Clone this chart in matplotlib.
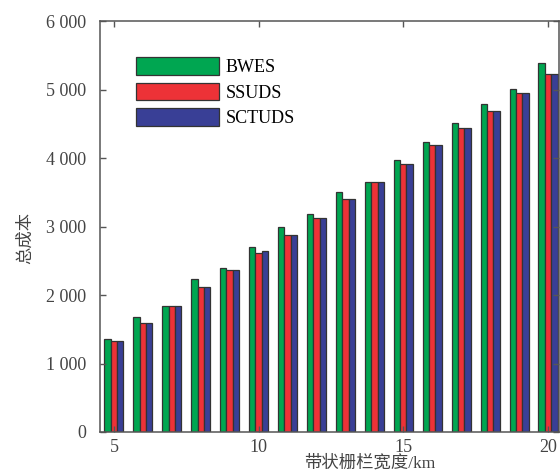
import numpy as np
import matplotlib.pyplot as plt

plt.rcParams['font.family'] = ['Liberation Serif', 'Noto Sans CJK SC']

# band width (km) and total cost of each method
widths = np.arange(5, 21)
bwes = [1362, 1674, 1835, 2233, 2399, 2705, 2993, 3182, 3504, 3654,
        3966, 4234, 4511, 4788, 5003, 5391]
ssuds = [1328, 1587, 1835, 2112, 2360, 2618, 2876, 3128, 3406, 3654,
         3917, 4185, 4442, 4691, 4953, 5231]
sctuds = [1328, 1587, 1835, 2112, 2360, 2638, 2876, 3128, 3406, 3654,
          3917, 4185, 4442, 4691, 4953, 5231]
names = ['BWES', 'SSUDS', 'SCTUDS']
colors = ['#00a651', '#ed3237', '#393f96']
yticks = [0, 1000, 2000, 3000, 4000, 5000, 6000]
ytick_labels = ['0', '1 000', '2 000', '3 000', '4 000', '5 000', '6 000']

fig = plt.figure(figsize=(5.6, 4.72), dpi=100)
ax = fig.add_axes([100/560, 1-432/472, 459/560, 411/472])

w = 0.22
for k, (vals, c, n) in enumerate(zip([bwes, ssuds, sctuds], colors, names)):
    ax.bar(widths + (k-1)*w, vals, width=w, color=c, edgecolor='#333333',
           linewidth=0.9, label=n)

ax.set_xlim(4.52, 20.38)
ax.set_ylim(0, 6000)
ax.set_xticks([5, 10, 15, 20])
ax.set_yticks(yticks)
ax.set_yticklabels(ytick_labels)
ax.tick_params(direction='in', length=4, width=1, colors='#555555',
               labelcolor='#444444', labelsize=13, top=True, right=True)
ax.tick_params(axis='y', pad=10)
ax.tick_params(axis='x', pad=5)
for s in ax.spines.values():
    s.set_color('#555555')
    s.set_linewidth(1.1)

ax.set_xlabel('带状栅栏宽度/km', fontsize=12.5, color='#444444', labelpad=-2)
ax.xaxis.set_label_coords(0.588, -0.055)
ax.set_ylabel('总成本', fontsize=12.5, color='#444444', labelpad=6)
ax.yaxis.set_label_coords(-0.143, 0.472)

ax.legend(loc='upper left', bbox_to_anchor=(0.058, 0.934), frameon=False,
          fontsize=13, handlelength=4.6, handleheight=1.15, labelspacing=0.35,
          borderpad=0, handletextpad=0.4)

fig.savefig('out.png', dpi=100)
